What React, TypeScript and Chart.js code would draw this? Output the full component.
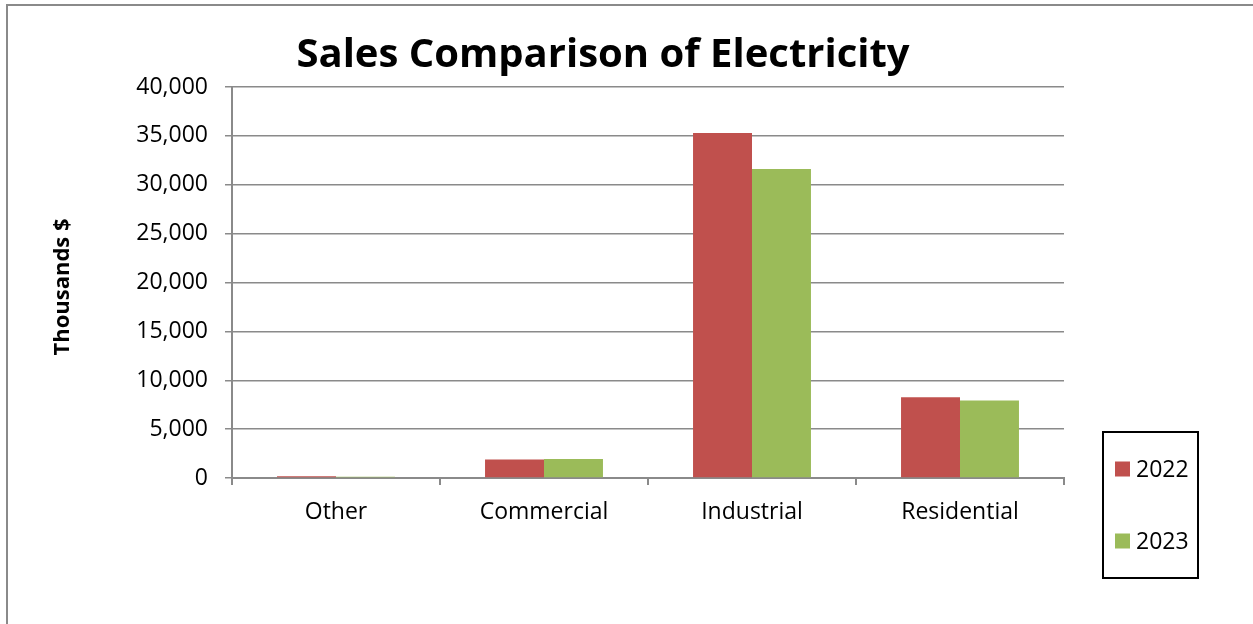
import React, { useEffect, useRef } from "react";
import { Chart, registerables } from "chart.js";

Chart.register(...registerables);

const categories = ["Other", "Commercial", "Industrial", "Residential"];
const sales2022 = [170, 1880, 35300, 8270];
const sales2023 = [140, 1950, 31600, 7930];
const seriesLabels = ["2022", "2023"];
const seriesColors = ["#C0504D", "#9BBB59"];
const chartTitle = "Sales Comparison of Electricity";
const yAxisTitle = "Thousands $";
const yMax = 40000;
const yStep = 5000;

const FONT = "'Open Sans', 'Noto Sans', sans-serif";

const decorPlugin = {
  id: "decor",
  beforeDraw(chart: any) {
    const ctx = chart.ctx;
    ctx.save();
    ctx.fillStyle = "#ffffff";
    ctx.fillRect(0, 0, chart.width, chart.height);
    ctx.strokeStyle = "#8a8a8a";
    ctx.lineWidth = 2;
    ctx.strokeRect(7, 5, chart.width + 20, chart.height + 20);
    ctx.restore();
  },
  afterDraw(chart: any) {
    const ctx = chart.ctx;
    const area = chart.chartArea;
    ctx.save();
    // title
    ctx.fillStyle = "#000";
    ctx.font = `bold 40px ${FONT}`;
    ctx.textAlign = "center";
    ctx.textBaseline = "middle";
    ctx.fillText(chartTitle, 603, 56);
    // y-axis title
    ctx.save();
    ctx.translate(63, 287);
    ctx.rotate(-Math.PI / 2);
    ctx.font = `bold 22px ${FONT}`;
    ctx.fillText(yAxisTitle, 0, 0);
    ctx.restore();
    // legend
    const lx = 1103, ly = 432, lw = 95, lh = 146;
    ctx.strokeStyle = "#000";
    ctx.lineWidth = 2;
    ctx.strokeRect(lx, ly, lw, lh);
    const rowsY = [469, 541];
    chart.data.datasets.forEach((ds: any, i: number) => {
      const cy = rowsY[i];
      ctx.fillStyle = ds.backgroundColor;
      ctx.fillRect(1115, cy - 7.5, 15, 15);
      ctx.fillStyle = "#000";
      ctx.font = `23px ${FONT}`;
      ctx.textAlign = "left";
      ctx.textBaseline = "middle";
      ctx.fillText(ds.label, 1136, cy + 1);
    });
    ctx.restore();
  },
};

export default function App() {
  const ref = useRef<HTMLCanvasElement>(null);
  useEffect(() => {
    if (!ref.current) return;
    const chart = new Chart(ref.current, {
      type: "bar",
      data: {
        labels: categories,
        datasets: [
          { label: seriesLabels[0], data: sales2022, backgroundColor: seriesColors[0], borderWidth: 0 },
          { label: seriesLabels[1], data: sales2023, backgroundColor: seriesColors[1], borderWidth: 0 },
        ],
      },
      options: {
        animation: false,
        responsive: false,
        layout: { padding: { left: 0, top: 87, right: 189, bottom: 0 } },
        plugins: {
          legend: { display: false },
          title: { display: false },
          tooltip: { enabled: false },
        },
        datasets: { bar: { categoryPercentage: 0.567, barPercentage: 1 } },
        scales: {
          x: {
            offset: true,
            grid: { display: true, drawOnChartArea: false, drawTicks: true, tickLength: 7, color: "#8a8a8a", lineWidth: 2, offset: true },
            border: { display: true, color: "#8a8a8a", width: 2 },
            ticks: { color: "#000", font: { family: FONT, size: 23 }, padding: 14 },
            afterFit(scale: any) {
              scale.height = 624 - 478;
            },
          },
          y: {
            min: 0,
            max: yMax,
            ticks: { stepSize: yStep, color: "#000", font: { family: FONT, size: 23 }, padding: 17 },
            grid: { color: "#8a8a8a", lineWidth: 1.5, tickLength: 7, drawTicks: true },
            border: { display: true, color: "#8a8a8a", width: 2 },
            afterFit(scale: any) {
              scale.width = 232;
            },
          },
        },
      },
      plugins: [decorPlugin],
    });
    return () => chart.destroy();
  }, []);
  return (
    <div style={{ position: "absolute", left: 0, top: 0, width: 1253, height: 624 }}>
      <canvas ref={ref} width={1253} height={624} style={{ display: "block" }} />
    </div>
  );
}
